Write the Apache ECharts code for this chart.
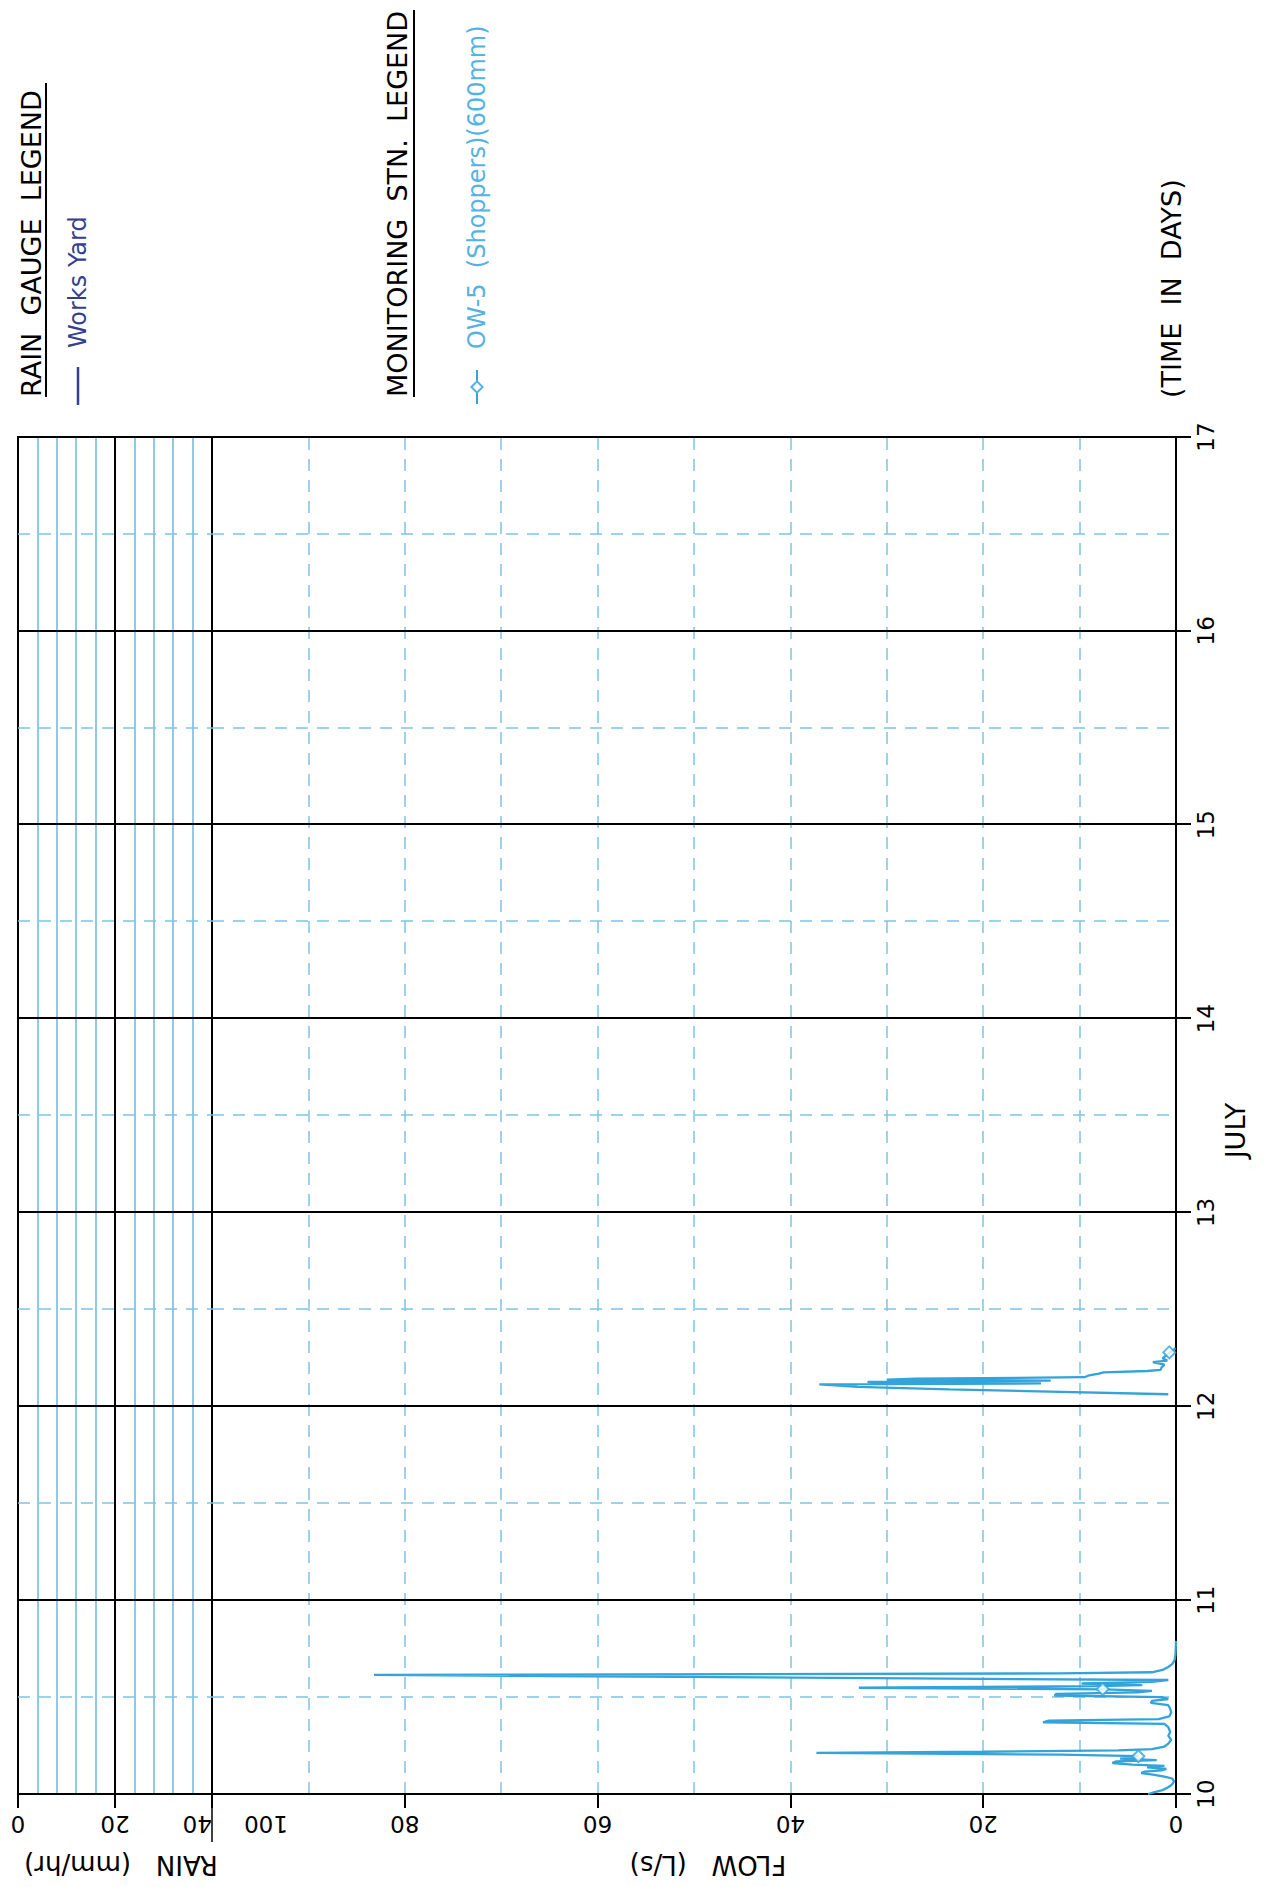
<!DOCTYPE html>
<html>
<head>
<meta charset="utf-8">
<script src="https://cdn.jsdelivr.net/npm/echarts@6/dist/echarts.min.js"></script>
<style>
html,body{margin:0;padding:0;width:1268px;height:1887px;overflow:hidden;background:#fff;}
#chart{position:absolute;left:0;top:0;width:1887px;height:1268px;transform-origin:0 0;transform:translate(0,1887px) rotate(-90deg);}
</style>
</head>
<body>
<div id="chart"></div>
<script>
// ---- data ----
const dayTicks = [10, 11, 12, 13, 14, 15, 16, 17];
const flowTicks = [0, 20, 40, 60, 80, 100];
const rainTicks = [0, 20, 40];

const rainSeriesName = 'Works Yard';
const rainDays = [];
const rainValues = [];

const flowSeriesName = 'OW-5  (Shoppers)(600mm)';
const flowDays = [
  10.000, 10.010, 10.020, 10.035, 10.050, 10.065, 10.080, 10.090, 10.100, 10.108,
  10.115, 10.122, 10.130, 10.138, 10.145, 10.152, 10.160, 10.168, 10.175, 10.182,
  10.188, 10.195, 10.203, 10.212, 10.218, 10.225, 10.232, 10.245, 10.260, 10.280,
  10.300, 10.320, 10.345, 10.362, 10.370, 10.378, 10.386, 10.400, 10.420, 10.440,
  10.458, 10.470, 10.480, 10.490, 10.500, 10.508, 10.516, 10.524, 10.532, 10.540,
  10.548, 10.556, 10.562, 10.570, 10.578, 10.588, 10.614, 10.622, 10.628, 10.640,
  10.655, 10.670, 10.690, 10.720, 10.790,
  11.400,
  12.062, 12.087, 12.100, 12.113, 12.118, 12.121, 12.126, 12.132, 12.137, 12.142,
  12.150, 12.160, 12.168, 12.175, 12.182, 12.188, 12.200, 12.215, 12.228, 12.236,
  12.248, 12.262, 12.275, 12.290, 12.300
];
const flowValues = [
  2.9, 2.2, 1.4, 0.8, 0.4, 0.2, 0.4, 1.2, 2.4, 3.6,
  3.3, 1.5, 1.0, 3.0, 1.2, 4.5, 6.6, 6.2, 2.0, 5.8,
  4.5, 3.9, 12.0, 37.3, 20.0, 6.0, 2.5, 1.2, 0.8, 0.5,
  0.8, 0.6, 0.8, 1.2, 13.8, 13.2, 1.8, 0.7, 0.5, 0.6,
  0.8, 2.6, 2.5, 0.8, 1.5, 12.6, 12.4, 4.0, 2.5, 7.4,
  32.9, 8.0, 3.5, 9.8, 2.5, 0.8, 83.2, 12.0, 2.5, 1.4,
  0.8, 0.4, 0.15, 0.05, 0.0,
  null,
  0.8, 23.5, 33.0, 37.0, 14.0, 30.0, 32.0, 13.0, 30.0, 27.0,
  9.5, 9.0, 8.0, 7.5, 3.0, 1.6, 1.5, 1.2, 2.4, 0.9,
  1.4, 1.0, 0.7, 0.3, 0.05
];
const markerDays = [10.195, 10.541, 12.278];
const markerFlows = [3.9, 7.6, 0.7];

// ---- styles ----
const FONT = 'DejaVu Sans';
const GRID_BLUE = '#7ec4e8';
const RAIN_BLUE = '#6ab7e0';
const LINE_BLUE = '#33a3d9';
const NAVY = '#34408f';
const LEGEND_BLUE = '#55b2e2';
const DASH = [12, 9];

const PLOT_LEFT = 93, PLOT_W = 1357;

const flowData = flowDays.map((d, i) => [d, flowValues[i] === null ? '-' : flowValues[i]]);
const rainData = rainDays.map((d, i) => [d, rainValues[i]]);
const markerData = markerDays.map((d, i) => [d, markerFlows[i]]);

const chart = echarts.init(document.getElementById('chart'), null, {renderer: 'svg', width: 1887, height: 1268});

const labelStyle = {color: '#000', fontFamily: FONT, fontSize: 23};

chart.setOption({
  animation: false,
  backgroundColor: '#fff',
  grid: [
    {left: PLOT_LEFT, width: PLOT_W, top: 18, height: 194, show: true, borderColor: '#000', borderWidth: 2, backgroundColor: 'transparent'},
    {left: PLOT_LEFT, width: PLOT_W, top: 212, height: 964, show: true, borderColor: '#000', borderWidth: 2, backgroundColor: 'transparent'}
  ],
  legend: [
    {
      data: [{name: rainSeriesName, icon: 'rect'}], left: 1482, top: 66, padding: 0,
      itemWidth: 38, itemHeight: 2.5, selectedMode: false,
      textStyle: {color: NAVY, fontFamily: FONT, fontSize: 24, padding: [0, 0, 0, 14]}
    },
    {
      data: [flowSeriesName], left: 1482, top: 465, padding: 0,
      itemWidth: 34, itemHeight: 14, selectedMode: false,
      textStyle: {color: LEGEND_BLUE, fontFamily: FONT, fontSize: 24, padding: [0, 0, 0, 16]}
    }
  ],
  xAxis: [
    {
      gridIndex: 0, type: 'value', min: dayTicks[0], max: dayTicks[dayTicks.length - 1], interval: 1,
      axisLine: {show: false}, axisTick: {show: false}, axisLabel: {show: false},
      splitLine: {show: true, lineStyle: {color: '#000', width: 2}},
      minorTick: {show: false, splitNumber: 2},
      minorSplitLine: {show: true, lineStyle: {color: GRID_BLUE, width: 1.5, type: DASH}}
    },
    {
      gridIndex: 1, type: 'value', min: dayTicks[0], max: dayTicks[dayTicks.length - 1], interval: 1,
      position: 'bottom',
      axisLine: {show: true, onZero: false, lineStyle: {color: '#000', width: 2}},
      axisTick: {show: true, length: 15, lineStyle: {color: '#000', width: 2}},
      axisLabel: Object.assign({margin: 18}, labelStyle),
      splitLine: {show: true, lineStyle: {color: '#000', width: 2}},
      minorTick: {show: false, splitNumber: 2},
      minorSplitLine: {show: true, lineStyle: {color: GRID_BLUE, width: 1.5, type: DASH}},
      name: 'JULY', nameLocation: 'middle', nameGap: 45,
      nameTextStyle: {color: '#000', fontFamily: FONT, fontSize: 27, padding: [0, 30, 0, 0]}
    }
  ],
  yAxis: [
    {
      gridIndex: 0, type: 'value', inverse: true, min: rainTicks[0], max: rainTicks[rainTicks.length - 1], interval: 20,
      axisLine: {show: true, lineStyle: {color: '#000', width: 2}},
      axisTick: {show: true, length: 14, lineStyle: {color: '#000', width: 2}},
      axisLabel: Object.assign({rotate: 90, margin: 18, alignMaxLabel: 'left'}, labelStyle),
      splitLine: {show: true, lineStyle: {color: '#000', width: 2}},
      minorTick: {show: false, splitNumber: 5},
      minorSplitLine: {show: true, lineStyle: {color: RAIN_BLUE, width: 1.5}},
      name: 'RAIN   (mm/hr)', nameLocation: 'middle', nameGap: 58,
      nameTextStyle: {color: '#000', fontFamily: FONT, fontSize: 26, padding: [0, 12, 0, 0]}
    },
    {
      gridIndex: 1, type: 'value', min: flowTicks[0], max: flowTicks[flowTicks.length - 1], interval: 20,
      axisLine: {show: true, onZero: false, lineStyle: {color: '#000', width: 2}},
      axisTick: {show: true, length: 14, lineStyle: {color: '#000', width: 2}},
      axisLabel: Object.assign({
        rotate: 90, margin: 18, alignMaxLabel: 'right',
        formatter: v => (v === flowTicks[flowTicks.length - 1] ? '{p|' + v + '}' : String(v)),
        rich: {p: {fontFamily: FONT, fontSize: 23, color: '#000', padding: [0, 32, 0, 0]}}
      }, labelStyle),
      splitLine: {show: true, showMinLine: false, showMaxLine: false, lineStyle: {color: GRID_BLUE, width: 1.5, type: DASH}},
      minorTick: {show: false, splitNumber: 2},
      minorSplitLine: {show: true, lineStyle: {color: GRID_BLUE, width: 1.5, type: DASH}},
      name: 'FLOW   (L/s)', nameLocation: 'middle', nameGap: 58,
      nameTextStyle: {color: '#000', fontFamily: FONT, fontSize: 26, padding: [0, 28, 0, 0]}
    }
  ],
  series: [
    {
      name: rainSeriesName, type: 'line', xAxisIndex: 0, yAxisIndex: 0,
      data: rainData, symbol: 'none',
      lineStyle: {color: NAVY, width: 2}, itemStyle: {color: NAVY}
    },
    {
      name: flowSeriesName, type: 'line', xAxisIndex: 1, yAxisIndex: 1,
      data: flowData, showSymbol: false, symbol: 'emptyDiamond', symbolSize: 12,
      connectNulls: false, z: 5,
      lineStyle: {color: LINE_BLUE, width: 2.3}, itemStyle: {color: LEGEND_BLUE, borderWidth: 1.5}
    },
    {
      name: flowSeriesName, type: 'scatter', xAxisIndex: 1, yAxisIndex: 1,
      data: markerData, symbol: 'emptyDiamond', symbolSize: 12, z: 6,
      itemStyle: {color: LINE_BLUE, borderWidth: 1.5}
    }
  ],
  graphic: [
    {type: 'text', left: 1490, top: 18, style: {text: 'RAIN  GAUGE  LEGEND', fill: '#000', font: '27px "DejaVu Sans"'}},
    {type: 'line', shape: {x1: 1490, y1: 46, x2: 1804, y2: 46}, style: {stroke: '#000', lineWidth: 2}},
    {type: 'text', left: 1490, top: 384, style: {text: 'MONITORING  STN.  LEGEND', fill: '#000', font: '27px "DejaVu Sans"'}},
    {type: 'line', shape: {x1: 1490, y1: 414, x2: 1877, y2: 414}, style: {stroke: '#000', lineWidth: 2}},
    {type: 'text', left: 1489, top: 1158, style: {text: '(TIME  IN  DAYS)', fill: '#000', font: '27px "DejaVu Sans"'}},
    {type: 'line', shape: {x1: PLOT_LEFT - 14, y1: 212, x2: PLOT_LEFT - 48, y2: 212}, style: {stroke: '#000', lineWidth: 1.5}}
  ]
});
</script>
</body>
</html>
